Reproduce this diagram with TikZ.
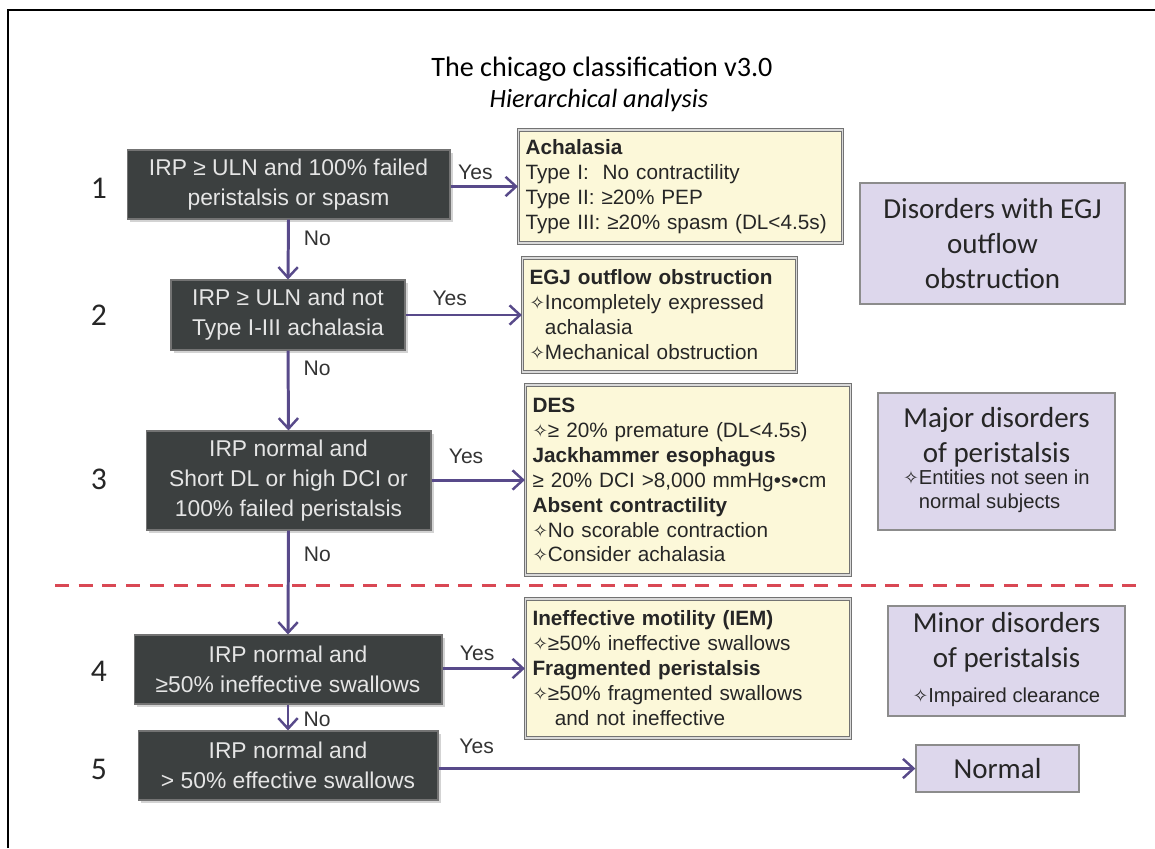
\documentclass[tikz,border=0pt]{standalone}
\usepackage{fontspec}
\setmainfont{Liberation Sans}
\newfontfamily\calib{Carlito}
\newfontfamily\dejavu{DejaVu Sans}
\usetikzlibrary{arrows.meta,shadows,positioning}
\definecolor{qgray}{RGB}{60,64,64}
\definecolor{ryellow}{RGB}{252,248,217}
\definecolor{cpurple}{RGB}{221,215,236}
\definecolor{flowc}{RGB}{88,74,138}
\definecolor{cutred}{RGB}{217,72,84}
\newcommand\dstar{{\dejavu\fontsize{10.5}{10}\selectfont ✧}}
\newcommand\dind{\phantom{\dstar}}
\newcommand\subtxt[1]{{\rmfamily\fontsize{11.5}{13.6}\selectfont\begin{tabular}{@{}l@{}}#1\end{tabular}}}
\tikzset{
  qbox/.style={fill=qgray, draw=black!55, line width=0.6pt, text=white!90!black, align=center,
    font=\fontsize{13}{17}\selectfont, inner sep=2pt,
    drop shadow={shadow xshift=1.5pt, shadow yshift=-1.5pt, opacity=0.35}},
  rbox/.style={fill=ryellow, draw=black!55, line width=0.7pt, double=black!15, double distance=0.7pt,
    align=left, font=\fontsize{11.8}{14.2}\selectfont, inner sep=4pt, text=black!85},
  cbox/.style={fill=cpurple, draw=black!45, line width=0.8pt, align=center,
    font=\calib\fontsize{16.5}{20}\selectfont, text=black!85},
  num/.style={font=\calib\fontsize{18}{20}\selectfont, text=black!85},
  lbl/.style={font=\fontsize{12}{14}\selectfont, text=black!80, inner sep=1pt},
  flow/.style={draw=flowc, line width=1.7pt, -{Straight Barb[length=6pt,width=11pt,line width=1.4pt]}}
}
\begin{document}
\begin{tikzpicture}[x=0.02cm,y=-0.02cm]
\useasboundingbox (0,0) rectangle (1155,848);
\draw[line width=1.1pt] (8,848) -- (8,10) -- (1155,10);
\node[font=\calib\fontsize{16}{18}\selectfont] (title) at (602,69) {The chicago classification v3.0};
\node[font=\calib\itshape\fontsize{15}{18}\selectfont] (subtitle) at (599,100) {Hierarchical analysis};

\node[num] (n1) at (99,188) {1};
\node[num] (n2) at (99,315) {2};
\node[num] (n3) at (99,479) {3};
\node[num] (n4) at (99,671) {4};
\node[num] (n5) at (99,769) {5};

\node[qbox, minimum width=6.46cm, minimum height=1.38cm] (q1) at (288.5,184.5) {IRP ≥ ULN and 100\% failed\\peristalsis or spasm};
\node[qbox, minimum width=4.68cm, minimum height=1.40cm] (q2) at (288,315) {IRP ≥ ULN and not\\Type I-III achalasia};
\node[qbox, minimum width=5.70cm, minimum height=1.98cm] (q3) at (288.5,480.5) {IRP normal and\\Short DL or high DCI or\\100\% failed peristalsis};
\node[qbox, minimum width=6.16cm, minimum height=1.38cm] (q4) at (288,669.5) {IRP normal and\\≥50\% ineffective swallows};
\node[qbox, minimum width=6.00cm, minimum height=1.38cm] (q5) at (288,765.5) {IRP normal and\\> 50\% effective swallows};

\node[rbox, text width=6.2cm, minimum height=2.26cm] (r1) at (680.5,186.5) {\textbf{Achalasia}\\Type I:\ \ No contractility\\Type II: ≥20\% PEP\\Type III: ≥20\% spasm (DL<4.5s)};
\node[rbox, text width=5.2cm, minimum height=2.28cm] (r2) at (659.5,315) {\textbf{EGJ outflow obstruction}\\\dstar Incompletely expressed\\\dind achalasia\\\dstar Mechanical obstruction};
\node[rbox, text width=6.22cm, minimum height=3.8cm] (r3) at (688,480) {\textbf{DES}\\\dstar≥ 20\% premature (DL<4.5s)\\\textbf{Jackhammer esophagus}\\≥ 20\% DCI >8,000 mmHg•s•cm\\\textbf{Absent contractility}\\\dstar No scorable contraction\\\dstar Consider achalasia};
\node[rbox, text width=6.22cm, minimum height=2.78cm] (r4) at (688,668.5) {\textbf{Ineffective motility (IEM)}\\\dstar≥50\% ineffective swallows\\\textbf{Fragmented peristalsis}\\\dstar≥50\% fragmented swallows\\\dind\ and not ineffective};

\node[cbox, minimum width=5.3cm, minimum height=2.42cm] (c1) at (992.5,243.5) {Disorders with EGJ\\outflow\\obstruction};
\node[cbox, minimum width=4.74cm, minimum height=2.74cm] (c2) at (996.5,461.5) {Major disorders\\of peristalsis\\\subtxt{\dstar Entities not seen in\\\dind normal subjects}};
\node[cbox, minimum width=4.74cm, minimum height=2.2cm] (c3) at (1006.5,661) {Minor disorders\\of peristalsis\\\subtxt{\dstar Impaired clearance}};
\node[cbox, minimum width=3.26cm, minimum height=0.94cm] (normal) at (997.5,768.5) {Normal};

\draw[cutred, line width=1.7pt, dash pattern=on 8pt off 5.5pt] (55,585) -- (1143,585);

\draw[flow] (q1.south) -- node[lbl, pos=.31, right=7pt] (no1) {No} (q2.north);
\draw[flow] (q2.south) -- node[lbl, pos=.22, right=7pt] (no2) {No} (q3.north);
\draw[flow] (q3.south) -- node[lbl, pos=.23, right=7pt] (no3) {No} (q4.north);
\draw[flow] (q4.south) -- node[lbl, pos=.59, right=7pt] (no4) {No} (q5.north);

\draw[flow] (q1.east |- r1.west) -- node[lbl, pos=.37, above=1.8pt] (yes1) {Yes} (r1.west);
\draw[flow] (q2.east) -- node[lbl, pos=.38, above=3.5pt] (yes2) {Yes} (r2.west);
\draw[flow] (q3.east |- r3.west) -- node[lbl, pos=.37, above=7.5pt] (yes3) {Yes} (r3.west);
\draw[flow] (q4.east |- r4.west) -- node[lbl, pos=.42, above=2.4pt] (yes4) {Yes} (r4.west);
\draw[flow] (q5.east |- normal.west) -- node[lbl, pos=.08, above=6.4pt] (yes5) {Yes} (normal.west);
\end{tikzpicture}
\end{document}
